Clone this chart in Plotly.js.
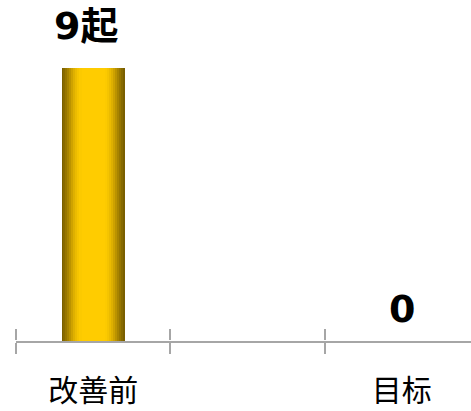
<!DOCTYPE html>
<html>
<head>
<meta charset="utf-8">
<script src="https://cdn.plot.ly/plotly-3.0.1.min.js"></script>
<style>
html,body{margin:0;padding:0;overflow:hidden;background:#fff;width:471px;height:411px;}
#chart{width:480px;height:411px;}
</style>
</head>
<body>
<div id="chart"></div>
<script>
// Data
var categories = ['改善前', ' ', '目标'];
var values = [9, null, 0];
var valueLabels = ['9起', '', '0'];

// Cylinder-like gradient built from nested overlaid bars (styling only)
var gradientStops = [
  {w: 0.408, c: '#7a5f00'},
  {w: 0.385, c: '#876a00'},
  {w: 0.360, c: '#977600'},
  {w: 0.335, c: '#a88400'},
  {w: 0.310, c: '#bb9300'},
  {w: 0.285, c: '#cea200'},
  {w: 0.260, c: '#deb000'},
  {w: 0.235, c: '#ebbb00'},
  {w: 0.210, c: '#f5c400'},
  {w: 0.180, c: '#fcca00'},
  {w: 0.150, c: '#ffcc00'}
];

var traces = gradientStops.map(function (s) {
  return {
    type: 'bar',
    x: categories,
    y: values,
    width: s.w,
    marker: {color: s.c, line: {width: 0}},
    hoverinfo: 'skip',
    showlegend: false
  };
});

// invisible trace so the upward tick axis (x2/y2) is drawn
traces.push({
  type: 'bar', x: categories, y: values, xaxis: 'x2', yaxis: 'y2',
  marker: {color: 'rgba(0,0,0,0)'}, hoverinfo: 'skip', showlegend: false
});

var yShifts = [42, 0, 32];
var annotations = categories.map(function (c, i) {
  return {
    x: c, y: values[i] === null ? 0 : values[i],
    xref: 'x', yref: 'y',
    text: valueLabels[i],
    showarrow: false,
    yanchor: 'middle',
    yshift: yShifts[i],
    xshift: i === 0 ? -7 : 0,
    font: {family: 'DejaVu Sans, "Noto Sans CJK SC"', size: 38, color: '#000', weight: 'bold'}
  };
}).filter(function (a) { return a.text !== ''; });

var axisCommon = {
  type: 'category',
  categoryorder: 'array',
  categoryarray: categories,
  range: [-0.5, 2.5],
  tickson: 'boundaries',
  ticklen: 11,
  tickwidth: 2,
  tickcolor: '#a6a6a6',
  showgrid: false,
  zeroline: false,
  fixedrange: true
};

var layout = {
  width: 480,
  height: 411,
  margin: {l: 16, r: 1, t: 38, b: 70, pad: 0},
  paper_bgcolor: '#ffffff',
  plot_bgcolor: 'rgba(0,0,0,0)',
  barmode: 'overlay',
  bargap: 0,
  showlegend: false,
  xaxis: Object.assign({}, axisCommon, {
    ticks: 'outside',
    showline: true,
    linecolor: '#a6a6a6',
    linewidth: 2,
    tickfont: {family: '"Noto Sans CJK SC", sans-serif', size: 30, color: '#000'},
    ticklabelstandoff: 22
  }),
  xaxis2: Object.assign({}, axisCommon, {
    anchor: 'y2',
    side: 'top',
    ticks: 'outside',
    showline: false,
    showticklabels: false
  }),
  yaxis: {
    range: [0, 10],
    visible: false,
    showgrid: false,
    zeroline: false,
    fixedrange: true
  },
  yaxis2: {
    domain: [0, 0.001],
    anchor: 'x2',
    range: [0, 10],
    showgrid: false,
    zeroline: false,
    showline: false,
    showticklabels: false,
    ticks: '',
    fixedrange: true
  },
  annotations: annotations
};

Plotly.newPlot('chart', traces, layout, {displayModeBar: false, staticPlot: true});
</script>
</body>
</html>
